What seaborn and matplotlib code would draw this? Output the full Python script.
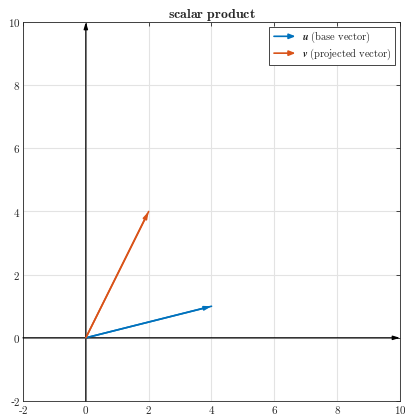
import matplotlib
matplotlib.use("Agg")
import matplotlib.pyplot as plt
import seaborn as sns
import pandas as pd
import numpy as np

names = ["u", "v"]
labels = [r"$\boldsymbol{u}\ \mathrm{(base\ vector)}$", r"$\boldsymbol{v}\ \mathrm{(projected\ vector)}$"]
vec_x = [4, 2]
vec_y = [1, 4]
colors = ["#0072BD", "#D95319"]
xticks = [-2, 0, 2, 4, 6, 8, 10]
yticks = [-2, 0, 2, 4, 6, 8, 10]

sns.set_style("white")
plt.rcParams["mathtext.fontset"] = "cm"
plt.rcParams["font.family"] = ["DejaVu Serif"]

fig = plt.figure(figsize=(4.06, 4.15), dpi=100)
ax = fig.add_axes([23/406, 14/415, 377/406, 379/415])

ax.set_xlim(-2, 10)
ax.set_ylim(-2, 10)
ax.set_xticks(xticks)
ax.set_yticks(yticks)
ax.set_xticklabels([f"${t}$" if t >= 0 else f"${{\\text{{-}}}}{-t}$" for t in xticks], fontsize=8)
ax.set_yticklabels([f"${t}$" if t >= 0 else f"-${-t}$" for t in yticks], fontsize=8)
ax.grid(True, color="#e3e3e3", linewidth=0.8)
ax.tick_params(direction="in", length=3, width=0.6, top=True, right=True, pad=2,
               colors="#262626")
for s in ax.spines.values():
    s.set_linewidth(0.6)
    s.set_color("#262626")

# coordinate axes arrows
ax.annotate("", xy=(10, 0), xytext=(-2, 0),
            arrowprops=dict(arrowstyle="-|>,head_length=0.4,head_width=0.12", color="black", lw=0.9,
                            shrinkA=0, shrinkB=0))
ax.annotate("", xy=(0, 10), xytext=(0, -2),
            arrowprops=dict(arrowstyle="-|>,head_length=0.4,head_width=0.12", color="black", lw=0.9,
                            shrinkA=0, shrinkB=0))

rows = []
for n, lab, x, y in zip(names, labels, vec_x, vec_y):
    rows.append({"vec": lab, "x": 0, "y": 0})
    rows.append({"vec": lab, "x": x, "y": y})
df = pd.DataFrame(rows)
sns.lineplot(data=df, x="x", y="y", hue="vec", palette=colors, sort=False,
             estimator=None, linewidth=1.2, ax=ax, legend=False)
for x, y, c in zip(vec_x, vec_y, colors):
    ax.annotate("", xy=(x, y), xytext=(0, 0),
                arrowprops=dict(arrowstyle="-|>,head_length=0.4,head_width=0.12", color=c, lw=1.2,
                                shrinkA=0, shrinkB=0))

from matplotlib.lines import Line2D
from matplotlib.legend_handler import HandlerBase
from matplotlib.patches import FancyArrowPatch

class ArrowHandler(HandlerBase):
    def create_artists(self, legend, orig, xd, yd, w, h, fs, trans):
        a = FancyArrowPatch((0 - xd, h/2 - yd), (w - xd, h/2 - yd),
                            arrowstyle="-|>,head_length=2.5,head_width=1.0",
                            color=orig.get_color(), lw=1.2, transform=trans, mutation_scale=1.5)
        return [a]

handles = [Line2D([], [], color=c) for c in colors]
leg = ax.legend(handles, labels, loc="upper right", fontsize=7.5,
                handler_map={Line2D: ArrowHandler()}, handlelength=2.6,
                frameon=True, fancybox=False, edgecolor="#262626", framealpha=1,
                borderpad=0.25, labelspacing=0.15, handletextpad=0.4,
                borderaxespad=0.5)
leg.get_frame().set_linewidth(0.6)

ax.set_xlabel("")
ax.set_ylabel("")
ax.set_title(r"$\mathbf{scalar\ product}$", fontsize=10, pad=3)

fig.savefig("out.png", dpi=100)
